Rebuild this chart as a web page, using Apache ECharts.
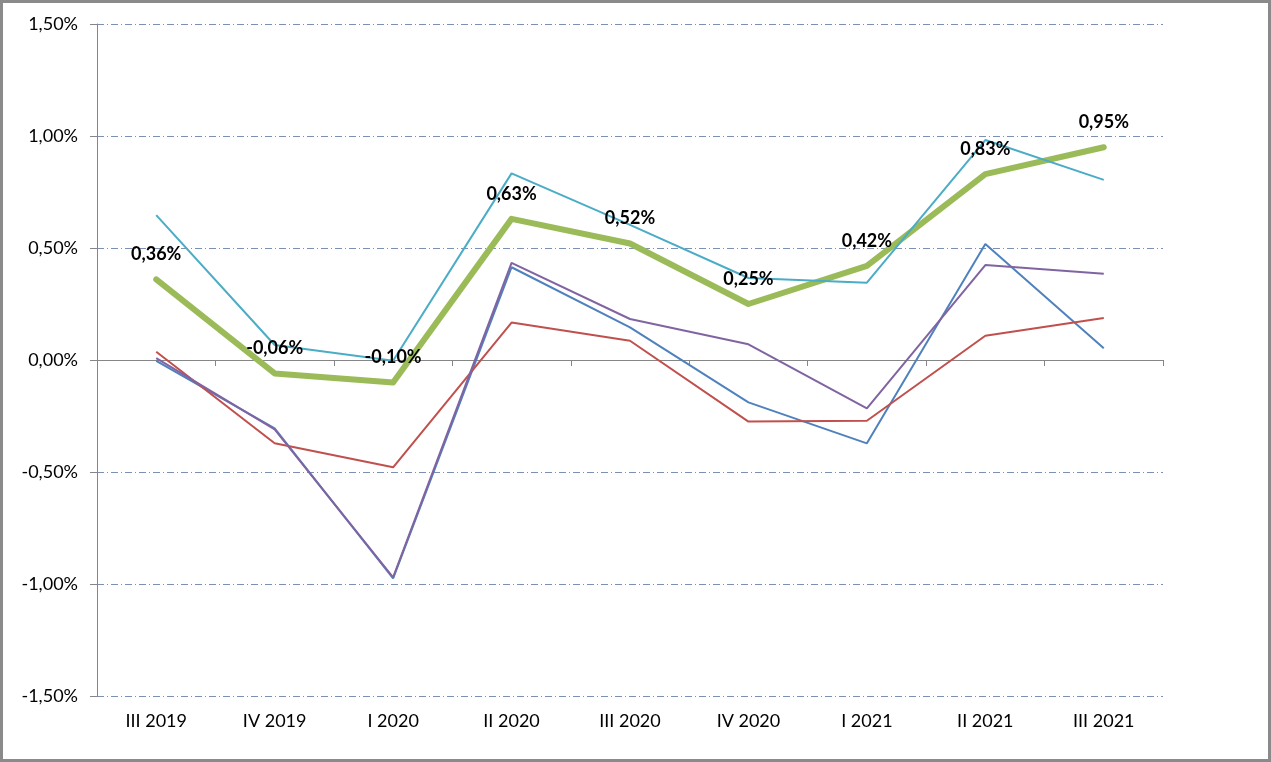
<!DOCTYPE html>
<html>
<head>
<meta charset="utf-8">
<script src="https://cdn.jsdelivr.net/npm/echarts@6/dist/echarts.min.js"></script>
<style>
html,body{margin:0;padding:0;background:#fff;}
#wrap{position:relative;width:1271px;height:762px;}
#chart{position:absolute;left:0;top:0;width:1271px;height:762px;}
#frame{position:absolute;left:0;top:0;width:1271px;height:762px;box-sizing:border-box;border:3px solid #8a8a8a;pointer-events:none;}
</style>
</head>
<body>
<div id="wrap"><div id="chart"></div><div id="frame"></div></div>
<script>
const categories = ['III 2019','IV 2019','I 2020','II 2020','III 2020','IV 2020','I 2021','II 2021','III 2021'];
const seriesBlue   = [-0.004, -0.305, -0.975, 0.414, 0.146, -0.189, -0.372, 0.518, 0.052];
const seriesRed    = [0.037, -0.372, -0.479, 0.167, 0.086, -0.275, -0.271, 0.108, 0.188];
const seriesGreen  = [0.36, -0.06, -0.10, 0.63, 0.52, 0.25, 0.42, 0.83, 0.95];
const seriesPurple = [0.008, -0.31, -0.97, 0.434, 0.183, 0.07, -0.216, 0.424, 0.385];
const seriesCyan   = [0.647, 0.067, -0.003, 0.833, 0.603, 0.366, 0.345, 0.982, 0.804];
const yTicks = [-1.5, -1.0, -0.5, 0, 0.5, 1.0, 1.5];

const fmt = v => v.toFixed(2).replace('.', ',') + '%';
const font = 'Lato, "Open Sans", sans-serif';

const chart = echarts.init(document.getElementById('chart'), null, {renderer: 'canvas'});
function thin(name, data, color) {
  return {
    name, type: 'line', data, xAxisIndex: 0, yAxisIndex: 0,
    symbol: 'none', smooth: false,
    lineStyle: {color, width: 2},
    itemStyle: {color},
    emphasis: {disabled: true}
  };
}
chart.setOption({
  animation: false,
  backgroundColor: '#fff',
  grid: {left: 97, right: 108, top: 24, bottom: 66, containLabel: false},
  xAxis: [{
    type: 'category', data: categories, boundaryGap: true, position: 'bottom',
    axisLine: {show: false, onZero: false},
    axisTick: {show: false},
    axisLabel: {color: '#000', fontFamily: font, fontSize: 18, margin: 16},
    splitLine: {show: false}
  }, {
    type: 'category', data: categories, boundaryGap: true, position: 'bottom',
    axisLine: {show: true, onZero: true, lineStyle: {color: '#868686', width: 1}},
    axisTick: {show: true, length: 6, alignWithLabel: false, lineStyle: {color: '#868686'}},
    axisLabel: {show: false},
    splitLine: {show: false}
  }],
  yAxis: {
    type: 'value', min: yTicks[0], max: yTicks[yTicks.length - 1], interval: 0.5,
    axisLine: {show: true, lineStyle: {color: '#868686', width: 1}},
    axisTick: {show: true, length: 7, lineStyle: {color: '#868686'}},
    axisLabel: {color: '#000', fontFamily: font, fontSize: 18, margin: 19, formatter: v => fmt(v)},
    splitLine: {show: true, lineStyle: {color: '#7c90b4', width: 1, type: [7, 3, 1, 3]}}
  },
  series: [
    thin('blue', seriesBlue, '#4F81BD'),
    thin('red', seriesRed, '#C0504D'),
    {
      name: 'green', type: 'line', data: seriesGreen, symbol: 'none',
      lineStyle: {color: '#9BBB59', width: 6, cap: 'round', join: 'round'},
      itemStyle: {color: '#9BBB59'},
      emphasis: {disabled: true},
      z: 3
    },
    thin('purple', seriesPurple, '#8064A2'),
    Object.assign(thin('cyan', seriesCyan, '#4BACC6'), {z: 4}),
    {
      name: 'greenLabels', type: 'line', data: seriesGreen,
      symbol: 'circle', symbolSize: 0, showSymbol: true,
      lineStyle: {opacity: 0, width: 0},
      itemStyle: {color: 'rgba(0,0,0,0)'},
      emphasis: {disabled: true},
      label: {show: true, position: 'top', distance: 16, color: '#000', fontFamily: font,
              fontWeight: 'bold', fontSize: 18, formatter: p => fmt(p.value)},
      z: 10
    }
  ]
});
</script>
</body>
</html>
